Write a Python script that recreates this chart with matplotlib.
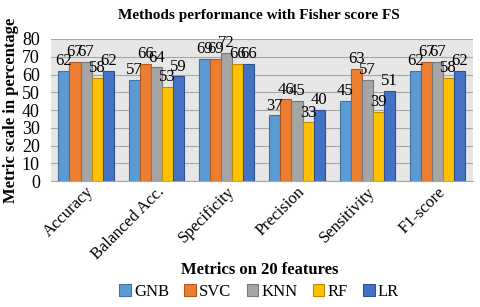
import numpy as np
import matplotlib.pyplot as plt

metrics = ['Accuracy', 'Balanced Acc.', 'Specificity', 'Precision', 'Sensitivity', 'F1-score']
methods = ['GNB', 'SVC', 'KNN', 'RF', 'LR']
gnb = [62, 57, 69, 37, 45, 62]
svc = [67, 66, 69, 46, 63, 67]
knn = [67, 64, 72, 45, 57, 67]
rf = [58, 53, 66, 33, 39, 58]
lr = [62, 59, 66, 40, 51, 62]
series = [gnb, svc, knn, rf, lr]
colors = ['#5B9BD5', '#ED7D31', '#A5A5A5', '#FFC000', '#4472C4']
edges = ['#41719C', '#AE5A21', '#787878', '#BC8C00', '#2F528F']

plt.rcParams['font.family'] = ['Liberation Serif', 'DejaVu Serif']

fig = plt.figure(figsize=(4.8, 3.07), dpi=100)
ax = fig.add_axes([0.106, 0.41, 0.879, 0.463])
ax.set_facecolor('#E7E6E6')

x = np.arange(len(metrics))
w = 0.157
for i, (vals, c, e) in enumerate(zip(series, colors, edges)):
    pos = x + (i - 2) * w
    ax.bar(pos, vals, w, color=c, edgecolor=e, linewidth=0.8, label=methods[i], zorder=3)
    for p, v in zip(pos, vals):
        ax.text(p, v + 1.0, str(v), ha='center', va='bottom', fontsize=12, zorder=4)

ax.set_ylim(0, 80)
ax.set_xlim(-0.5, len(metrics) - 0.5)
ax.set_yticks(range(0, 81, 10))
ax.tick_params(axis='y', length=0, labelsize=13, pad=8)
ax.tick_params(axis='x', length=0, labelsize=12, pad=2)
ax.set_xticks(x)
ax.set_xticklabels(metrics, rotation=45, ha='right', rotation_mode='anchor')
ax.yaxis.grid(True, color='#A6A6A6', linewidth=0.8, zorder=0)
for s in ['left', 'right', 'top']:
    ax.spines[s].set_visible(False)
ax.spines['bottom'].set_color('#A6A6A6')

fig.text(0.54, 0.95, 'Methods performance with Fisher score FS', ha='center', va='center',
         fontsize=11, fontweight='bold')
ax.set_ylabel('Metric scale in percentage', fontsize=12, fontweight='bold', labelpad=2)
fig.text(0.54, 0.12, 'Metrics on 20 features', ha='center', va='center', fontsize=12, fontweight='bold')
fig.legend(loc='center', bbox_to_anchor=(0.54, 0.05), ncol=5, frameon=False, fontsize=12,
           handlelength=0.7, handleheight=0.7, handletextpad=0.2, columnspacing=0.9)

fig.savefig('out.png', dpi=100)
